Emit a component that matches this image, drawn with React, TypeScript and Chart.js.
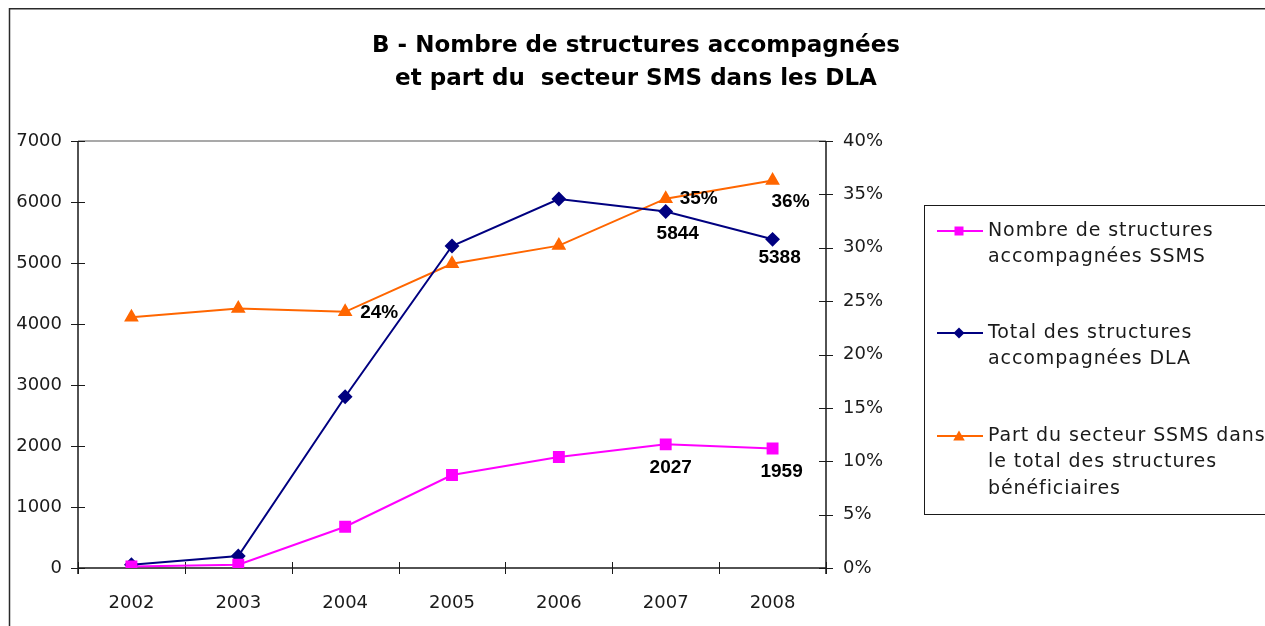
import React, { useEffect, useRef } from "react";
import { Chart, registerables } from "chart.js";

Chart.register(...registerables);

// ---- data ----
const years = ["2002", "2003", "2004", "2005", "2006", "2007", "2008"];
const ssmsCounts = [25, 55, 677, 1525, 1820, 2027, 1959];
const dlaTotals = [55, 197, 2808, 5279, 6049, 5844, 5388];
const ssmsSharePct = [23.5, 24.3, 24.0, 28.5, 30.2, 34.6, 36.3];

const leftAxisMax = 7000;
const leftAxisStep = 1000;
const rightAxisMax = 40;
const rightAxisStep = 5;

const titleLines = [
  "B - Nombre de structures accompagnées",
  "et part du  secteur SMS dans les DLA",
];
const seriesNames = [
  ["Nombre de structures", "accompagnées SSMS"],
  ["Total des structures", "accompagnées DLA"],
  ["Part du secteur SSMS dans", "le total des structures", "bénéficiaires"],
];

// which points carry a value label
const ssmsLabelled = [5, 6];
const dlaLabelled = [5, 6];
const shareLabelled = [2, 5, 6];

// ---- styles ----
const PINK = "#FF00FF";
const NAVY = "#000080";
const ORANGE = "#FF6600";
const TICK_FONT = '"DejaVu Sans", sans-serif';
const LABEL_FONT = '"Liberation Sans", Arial, sans-serif';

// label placement (style only): offsets relative to the point
const labelStyle: Record<string, { dx: number; dy: number; align: CanvasTextAlign }> = {
  "0-5": { dx: 5, dy: 23, align: "center" },
  "0-6": { dx: 9, dy: 23, align: "center" },
  "1-5": { dx: 12, dy: 22, align: "center" },
  "1-6": { dx: 7, dy: 18, align: "center" },
  "2-2": { dx: 15, dy: 1, align: "left" },
  "2-5": { dx: 14, dy: 0, align: "left" },
  "2-6": { dx: 18, dy: 21, align: "center" },
};

const W = 1257;
const H = 618;
const AREA_RIGHT = 818;
const RIGHT_AXIS_W = 100;

function drawMarker(ctx: CanvasRenderingContext2D, style: string, x: number, y: number, r: number, color: string) {
  ctx.save();
  ctx.fillStyle = color;
  ctx.beginPath();
  if (style === "rect") {
    ctx.rect(x - r, y - r, 2 * r, 2 * r);
  } else if (style === "rectRot") {
    ctx.moveTo(x, y - r);
    ctx.lineTo(x + r, y);
    ctx.lineTo(x, y + r);
    ctx.lineTo(x - r, y);
    ctx.closePath();
  } else {
    ctx.moveTo(x, y - r);
    ctx.lineTo(x + r * 1.05, y + r * 0.8);
    ctx.lineTo(x - r * 1.05, y + r * 0.8);
    ctx.closePath();
  }
  ctx.fill();
  ctx.restore();
}

const decorPlugin = {
  id: "decor",
  beforeDatasetsDraw(chart: any) {
    const ctx: CanvasRenderingContext2D = chart.ctx;
    const { left, right, top, bottom } = chart.chartArea;
    const yL = chart.scales.y;
    const yR = chart.scales.y1;
    const xS = chart.scales.x;
    ctx.save();
    ctx.strokeStyle = "#8c8c8c";
    ctx.lineWidth = 1.5;
    ctx.beginPath();
    ctx.moveTo(left, top);
    ctx.lineTo(right, top);
    ctx.stroke();
    ctx.strokeStyle = "#1a1a1a";
    ctx.lineWidth = 1.5;
    ctx.beginPath();
    ctx.moveTo(left, top);
    ctx.lineTo(left, bottom + 6);
    ctx.moveTo(right, top);
    ctx.lineTo(right, bottom + 6);
    ctx.moveTo(left, bottom);
    ctx.lineTo(right, bottom);
    ctx.stroke();
    ctx.lineWidth = 1;
    ctx.beginPath();
    yL.ticks.forEach((t: any) => {
      const py = Math.round(yL.getPixelForValue(t.value)) + 0.5;
      ctx.moveTo(left - 7, py);
      ctx.lineTo(left + 7, py);
    });
    yR.ticks.forEach((t: any) => {
      const py = Math.round(yR.getPixelForValue(t.value)) + 0.5;
      ctx.moveTo(right - 7, py);
      ctx.lineTo(right + 7, py);
    });
    const n = years.length;
    for (let i = 0; i <= n; i++) {
      let px: number;
      if (i === 0) px = left;
      else if (i === n) px = right;
      else px = (xS.getPixelForValue(i - 1) + xS.getPixelForValue(i)) / 2;
      px = Math.round(px) + 0.5;
      ctx.moveTo(px, bottom - 6);
      ctx.lineTo(px, bottom + 6);
    }
    ctx.stroke();
    ctx.restore();
  },
  afterDatasetsDraw(chart: any) {
    const ctx: CanvasRenderingContext2D = chart.ctx;
    ctx.save();
    ctx.fillStyle = "#000";
    ctx.font = `bold 19px ${LABEL_FONT}`;
    ctx.textBaseline = "middle";
    const lists = [ssmsLabelled, dlaLabelled, shareLabelled];
    lists.forEach((idxs, di) => {
      const meta = chart.getDatasetMeta(di);
      const data = chart.data.datasets[di].data as number[];
      idxs.forEach((i) => {
        const el = meta.data[i];
        const st = labelStyle[`${di}-${i}`];
        const v = data[i];
        const txt = di === 2 ? `${Math.round(v)}%` : `${v}`;
        ctx.textAlign = st.align;
        ctx.fillText(txt, el.x + st.dx, el.y + st.dy);
      });
    });
    ctx.restore();
  },
  afterDraw(chart: any) {
    const ctx: CanvasRenderingContext2D = chart.ctx;
    ctx.save();
    // frame
    ctx.strokeStyle = "#2a2a2a";
    ctx.lineWidth = 1.5;
    ctx.beginPath();
    ctx.moveTo(1.5, H);
    ctx.lineTo(1.5, 0.75);
    ctx.lineTo(W, 0.75);
    ctx.stroke();

    // title
    ctx.fillStyle = "#000";
    ctx.font = `bold 23px ${TICK_FONT}`;
    ctx.textAlign = "center";
    ctx.textBaseline = "middle";
    ctx.fillText(titleLines[0], 628, 38);
    ctx.fillText(titleLines[1], 628, 71);

    // legend
    ctx.strokeStyle = "#1a1a1a";
    ctx.lineWidth = 1;
    ctx.strokeRect(916.5, 197.5, 400, 309);
    const rowsY = [223, 325, 428];
    const lineH = 26.5;
    ctx.font = `19px ${TICK_FONT}`;
    (ctx as any).letterSpacing = "0.9px";
    ctx.textAlign = "left";
    chart.data.datasets.forEach((ds: any, di: number) => {
      const y = rowsY[di];
      ctx.strokeStyle = ds.borderColor;
      ctx.lineWidth = 2;
      ctx.beginPath();
      ctx.moveTo(929, y);
      ctx.lineTo(975, y);
      ctx.stroke();
      drawMarker(ctx, ds.pointStyle, 951, y, ds.pointStyle === "rect" ? 4.5 : 5.5, ds.pointBackgroundColor);
      ctx.fillStyle = "#1a1a1a";
      seriesNames[di].forEach((line, li) => {
        ctx.fillText(line, 980, y + li * lineH);
      });
    });
    (ctx as any).letterSpacing = "0px";
    ctx.restore();
  },
};

export default function App() {
  const ref = useRef<HTMLCanvasElement | null>(null);
  useEffect(() => {
    if (!ref.current) return;
    const chart = new Chart(ref.current, {
      type: "line",
      data: {
        labels: years,
        datasets: [
          {
            label: seriesNames[0].join(" "),
            data: ssmsCounts,
            yAxisID: "y",
            borderColor: PINK,
            backgroundColor: PINK,
            pointBackgroundColor: PINK,
            pointBorderColor: PINK,
            pointStyle: "rect",
            pointRadius: 7,
            borderWidth: 2,
            tension: 0,
          },
          {
            label: seriesNames[1].join(" "),
            data: dlaTotals,
            yAxisID: "y",
            borderColor: NAVY,
            backgroundColor: NAVY,
            pointBackgroundColor: NAVY,
            pointBorderColor: NAVY,
            pointStyle: "rectRot",
            pointRadius: 6,
            borderWidth: 2,
            tension: 0,
          },
          {
            label: seriesNames[2].join(" "),
            data: ssmsSharePct,
            yAxisID: "y1",
            borderColor: ORANGE,
            backgroundColor: ORANGE,
            pointBackgroundColor: ORANGE,
            pointBorderColor: ORANGE,
            pointStyle: "triangle",
            pointRadius: 6.5,
            borderWidth: 2,
            tension: 0,
          },
        ],
      },
      options: {
        responsive: false,
        animation: false,
        layout: { padding: { left: 0, right: W - AREA_RIGHT - RIGHT_AXIS_W, top: 133, bottom: 0 } },
        plugins: {
          legend: { display: false },
          title: { display: false },
          tooltip: { enabled: false },
        },
        scales: {
          x: {
            type: "category",
            offset: true,
            grid: { display: false, drawTicks: false },
            border: { display: false },
            ticks: { font: { family: TICK_FONT, size: 18 }, color: "#1a1a1a", padding: 25, maxRotation: 0 },
            afterFit: (s: any) => {
              s.height = 58;
            },
          },
          y: {
            position: "left",
            min: 0,
            max: leftAxisMax,
            grid: { display: false, drawTicks: false },
            border: { display: false },
            ticks: {
              stepSize: leftAxisStep,
              font: { family: TICK_FONT, size: 18 },
              color: "#1a1a1a",
              padding: 16,
              callback: (v: any) => `${v}`,
            },
            afterFit: (s: any) => {
              s.width = 70;
            },
          },
          y1: {
            position: "right",
            min: 0,
            max: rightAxisMax,
            grid: { display: false, drawTicks: false },
            border: { display: false },
            ticks: {
              stepSize: rightAxisStep,
              font: { family: TICK_FONT, size: 18 },
              color: "#1a1a1a",
              padding: 17,
              callback: (v: any) => `${v}%`,
            },
            afterFit: (s: any) => {
              s.width = RIGHT_AXIS_W;
            },
          },
        },
      },
      plugins: [decorPlugin],
    });
    return () => chart.destroy();
  }, []);

  return (
    <div style={{ position: "fixed", left: 8, top: 8, width: W, height: H, background: "#fff" }}>
      <canvas ref={ref} width={W} height={H} style={{ display: "block", width: W, height: H }} />
    </div>
  );
}
